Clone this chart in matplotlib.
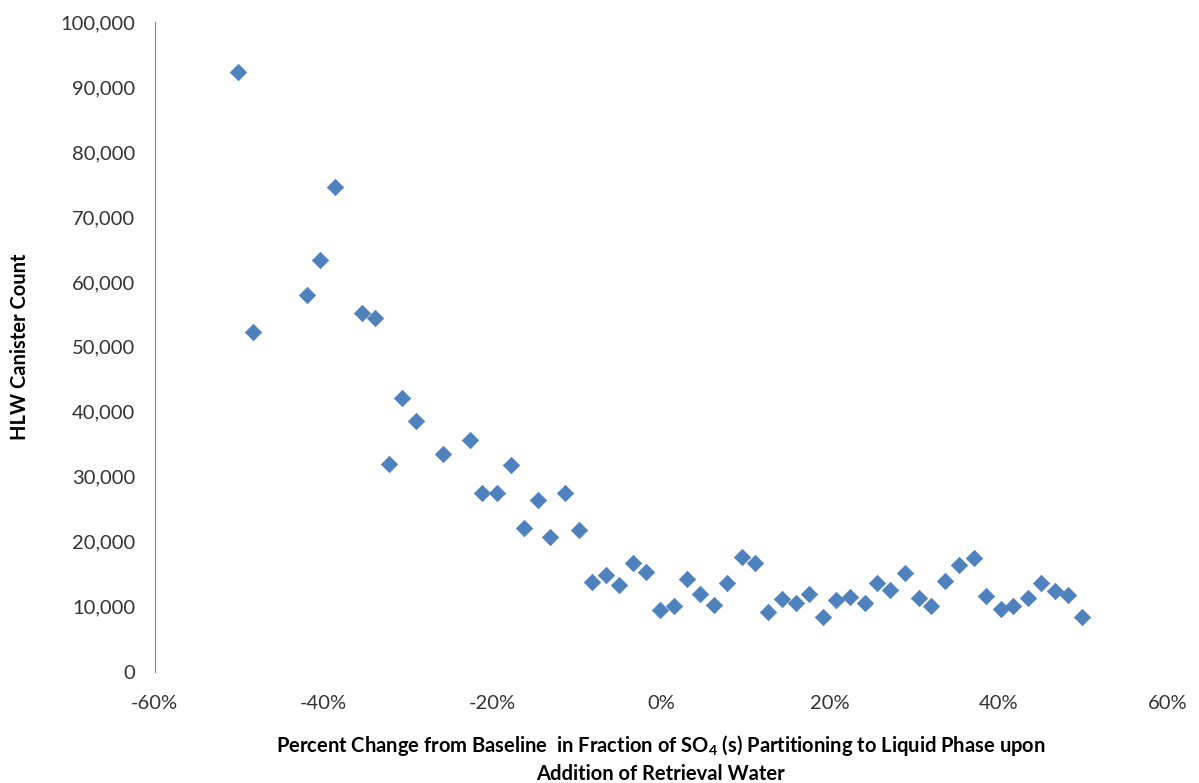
import matplotlib.pyplot as plt
from matplotlib.ticker import FuncFormatter

# 데이터
pct_change = [-50.1, -48.3, -41.9, -40.4, -38.7, -35.5, -33.9, -32.2, -30.7, -29.1,
              -25.8, -22.6, -21.2, -19.5, -17.8, -16.2, -14.6, -13.2, -11.4, -9.8,
              -8.2, -6.5, -5.0, -3.4, -1.8, -0.2, 1.5, 3.1, 4.6, 6.2,
              7.8, 9.6, 11.1, 12.7, 14.3, 16.0, 17.5, 19.2, 20.7, 22.4,
              24.1, 25.6, 27.1, 28.9, 30.5, 32.0, 33.6, 35.3, 37.0, 38.5,
              40.2, 41.7, 43.4, 45.0, 46.6, 48.2, 49.8]
canisters = [92300, 52300, 58000, 63400, 74600, 55200, 54500, 32000, 42200, 38600,
             33500, 35700, 27500, 27500, 31800, 22200, 26500, 20800, 27500, 21800,
             13800, 14900, 13400, 16800, 15400, 9500, 10200, 14300, 12000, 10300,
             13700, 17700, 16800, 9200, 11200, 10600, 12000, 8500, 11100, 11500,
             10600, 13700, 12600, 15200, 11400, 10200, 14000, 16500, 17500, 11700,
             9700, 10200, 11400, 13700, 12500, 11800, 8500]

x_ticks = [-60, -40, -20, 0, 20, 40, 60]
y_ticks = list(range(0, 100001, 10000))

plt.rcParams['font.family'] = ['Lato', 'DejaVu Sans']
plt.rcParams['mathtext.fontset'] = 'custom'
plt.rcParams['mathtext.rm'] = 'Lato'
plt.rcParams['mathtext.bf'] = 'Lato:bold'

fig = plt.figure(figsize=(11.99, 7.83), dpi=100)
ax = fig.add_axes([0.129, 0.142, 0.845, 0.830])

ax.scatter(pct_change, canisters, marker='D', s=70, color='#4F81BD',
           edgecolors='#4F81BD', linewidths=0.5, zorder=3)

ax.set_xlim(-60, 60)
ax.set_ylim(0, 100000)
ax.set_xticks(x_ticks)
ax.set_yticks(y_ticks)
ax.xaxis.set_major_formatter(FuncFormatter(lambda v, p: f'{v:.0f}%'))
ax.yaxis.set_major_formatter(FuncFormatter(lambda v, p: f'{v:,.0f}'))
ax.tick_params(axis='both', length=0, labelsize=14.5, colors='#333333', pad=14)
ax.tick_params(axis='x', pad=17)

for side in ['top', 'right', 'bottom']:
    ax.spines[side].set_visible(False)
ax.spines['left'].set_color('#868686')

fig.text(0.551, 1 - 733 / 783,
         'Percent Change from Baseline  in Fraction of SO$_\\mathbf{4}$ (s) '
         'Partitioning to Liquid Phase upon\nAddition of Retrieval Water',
         fontsize=14.5, fontweight='bold', ha='center', va='top',
         multialignment='center', linespacing=1.4)
ax.set_ylabel('HLW Canister Count', fontsize=14.5, fontweight='bold', labelpad=22)

fig.savefig('out.png', dpi=100)
